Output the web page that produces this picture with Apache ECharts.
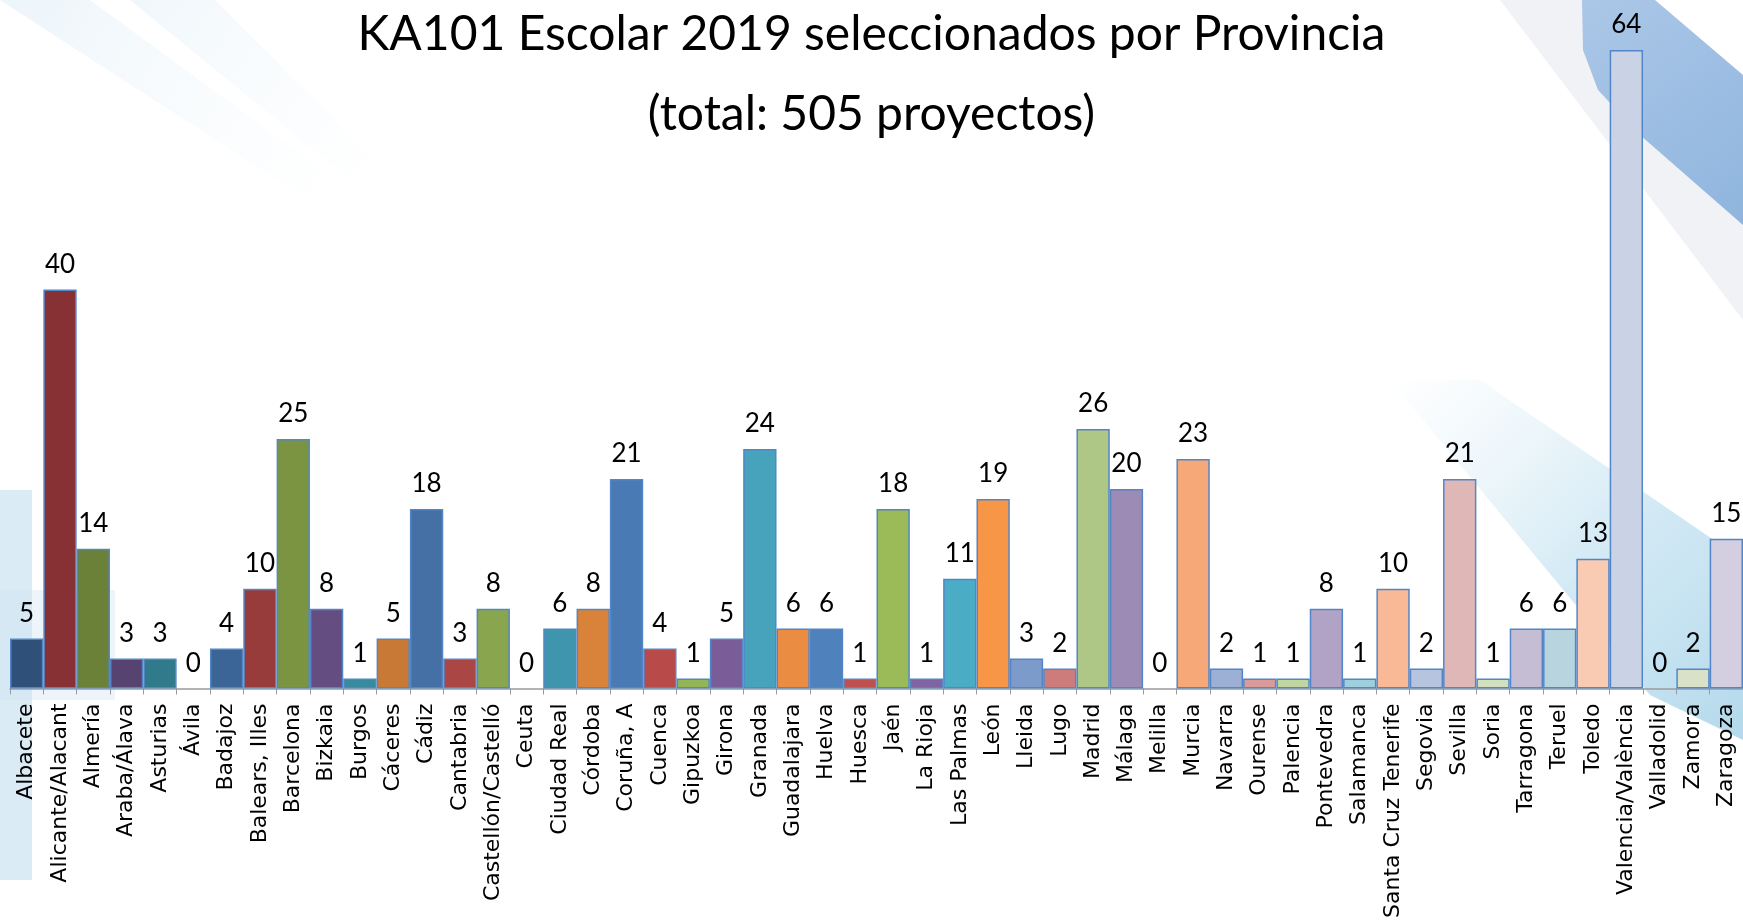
<!DOCTYPE html>
<html>
<head>
<meta charset="utf-8">
<script src="https://cdn.jsdelivr.net/npm/echarts@6/dist/echarts.min.js"></script>
<style>
  html, body { margin: 0; padding: 0; background: #fff; }
  #chart { width: 1743px; height: 921px; }
</style>
</head>
<body>
<div id="chart"></div>
<script>
var provincias = ['Albacete', 'Alicante/Alacant', 'Almería', 'Araba/Álava', 'Asturias', 'Ávila',
  'Badajoz', 'Balears, Illes', 'Barcelona', 'Bizkaia', 'Burgos', 'Cáceres', 'Cádiz', 'Cantabria',
  'Castellón/Castelló', 'Ceuta', 'Ciudad Real', 'Córdoba', 'Coruña, A', 'Cuenca', 'Gipuzkoa',
  'Girona', 'Granada', 'Guadalajara', 'Huelva', 'Huesca', 'Jaén', 'La Rioja', 'Las Palmas', 'León',
  'Lleida', 'Lugo', 'Madrid', 'Málaga', 'Melilla', 'Murcia', 'Navarra', 'Ourense', 'Palencia',
  'Pontevedra', 'Salamanca', 'Santa Cruz Tenerife', 'Segovia', 'Sevilla', 'Soria', 'Tarragona',
  'Teruel', 'Toledo', 'Valencia/València', 'Valladolid', 'Zamora', 'Zaragoza'];

var proyectos = [5, 40, 14, 3, 3, 0,
  4, 10, 25, 8, 1, 5, 18, 3,
  8, 0, 6, 8, 21, 4, 1,
  5, 24, 6, 6, 1, 18, 1, 11, 19,
  3, 2, 26, 20, 0, 23, 2, 1, 1,
  8, 1, 10, 2, 21, 1, 6,
  6, 13, 64, 0, 2, 15];

// excel palette, one colour per bar
var colores = ['#2f5079', '#873134', '#6b8138', '#574370', '#317a8b', '#b5600f',
  '#3b6497', '#973c3b', '#7a9442', '#644d80', '#388a9e', '#c87935', '#4470a6', '#aa4644',
  '#89a54e', '#7a5c99', '#3f95ae', '#d9833a', '#4a7ab4', '#b84b49', '#93b556',
  '#7a5c99', '#47a2bb', '#ea8c41', '#4f81bd', '#c0504d', '#9bbb59', '#8064a2', '#4bacc6', '#f79646',
  '#7c9bcb', '#cd7c7b', '#aec787', '#9c8bb5', '#f5a97a', '#f7a878', '#9cb0d6', '#d99a99', '#c0d5a0',
  '#b0a3c6', '#9fcedc', '#f9b996', '#b7c4e0', '#e0b7b7', '#d3e0c0', '#c4bdd3',
  '#b8d5df', '#f9cbb2', '#c9d3e5', '#ecc9c8', '#d9e2c9', '#d3cee0'];

var titulo = 'KA101 Escolar 2019 seleccionados por Provincia';
var subtitulo = '(total: 505 proyectos)';

var chart = echarts.init(document.getElementById('chart'));

function fade(c0, c1) {
  return new echarts.graphic.LinearGradient(0, 0, 1, 1, [
    { offset: 0, color: c0 }, { offset: 1, color: c1 }]);
}

chart.setOption({
  backgroundColor: '#fff',
  animation: false,
  title: [{
    text: titulo,
    left: 'center',
    top: 6,
    textStyle: { fontFamily: 'Lato', fontWeight: 'normal', fontSize: 48, color: '#000' }
  }, {
    text: subtitulo,
    left: 'center',
    top: 86,
    textStyle: { fontFamily: 'Lato', fontWeight: 'normal', fontSize: 48, color: '#000' }
  }],
  graphic: [
    // faint watermark swooshes behind the chart
    { type: 'polygon', z: -10, silent: true,
      shape: { points: [[0, 0], [90, 0], [350, 190], [300, 195]] },
      style: { fill: fade('rgba(200,226,242,0.35)', 'rgba(230,240,248,0)') } },
    { type: 'polygon', z: -10, silent: true,
      shape: { points: [[130, 0], [215, 0], [390, 175], [350, 180]] },
      style: { fill: fade('rgba(205,228,243,0.3)', 'rgba(230,240,248,0)') } },
    { type: 'polygon', z: -10, silent: true,
      shape: { points: [[1500, 0], [1585, 0], [1585, 50], [1600, 90], [1743, 215], [1743, 320]] },
      style: { fill: 'rgba(236,239,243,0.8)' } },
    { type: 'polygon', z: -9, silent: true,
      shape: { points: [[1582, 0], [1655, 0], [1743, 75], [1743, 225], [1640, 135], [1598, 90], [1583, 50]] },
      style: { fill: fade('#abc7e7', '#8fb5de') } },
    { type: 'polygon', z: -10, silent: true,
      shape: { points: [[1390, 380], [1480, 380], [1743, 560], [1743, 740], [1650, 695]] },
      style: { fill: new echarts.graphic.LinearGradient(0, 0, 1, 1, [
        { offset: 0, color: 'rgba(215,235,245,0)' }, { offset: 0.55, color: 'rgba(195,226,241,0.75)' },
        { offset: 1, color: 'rgba(175,215,235,0.95)' }]) } },
    { type: 'rect', z: -10, silent: true,
      shape: { x: 0, y: 590, width: 115, height: 110 },
      style: { fill: 'rgba(215,232,244,0.45)' } },
    { type: 'rect', z: -10, silent: true,
      shape: { x: 0, y: 490, width: 32, height: 390 },
      style: { fill: 'rgba(200,224,240,0.65)' } }
  ],
  grid: {
    left: 10,
    right: 0,
    top: 50,
    bottom: 230,
    containLabel: false
  },
  xAxis: {
    type: 'category',
    data: provincias,
    axisLine: { lineStyle: { color: '#9a9a9a', width: 1.5 } },
    axisTick: { show: true, length: 6, lineStyle: { color: '#9a9a9a' } },
    axisLabel: {
      rotate: 90,
      interval: 0,
      margin: 15,
      color: '#000',
      fontFamily: 'DejaVu Sans',
      fontSize: 22
    }
  },
  yAxis: {
    type: 'value',
    min: 0,
    max: 64,
    show: false,
    splitLine: { show: false }
  },
  series: [{
    type: 'bar',
    barCategoryGap: 0,
    data: proyectos.map(function (v, i) {
      return { value: v, itemStyle: { color: colores[i], borderWidth: v === 0 ? 0 : 1.5 } };
    }),
    itemStyle: {
      borderColor: '#5386c8',
      borderWidth: 1.5
    },
    label: {
      show: true,
      position: 'top',
      distance: 12,
      color: '#000',
      fontFamily: 'Lato',
      fontSize: 26
    }
  }]
});
</script>
</body>
</html>
